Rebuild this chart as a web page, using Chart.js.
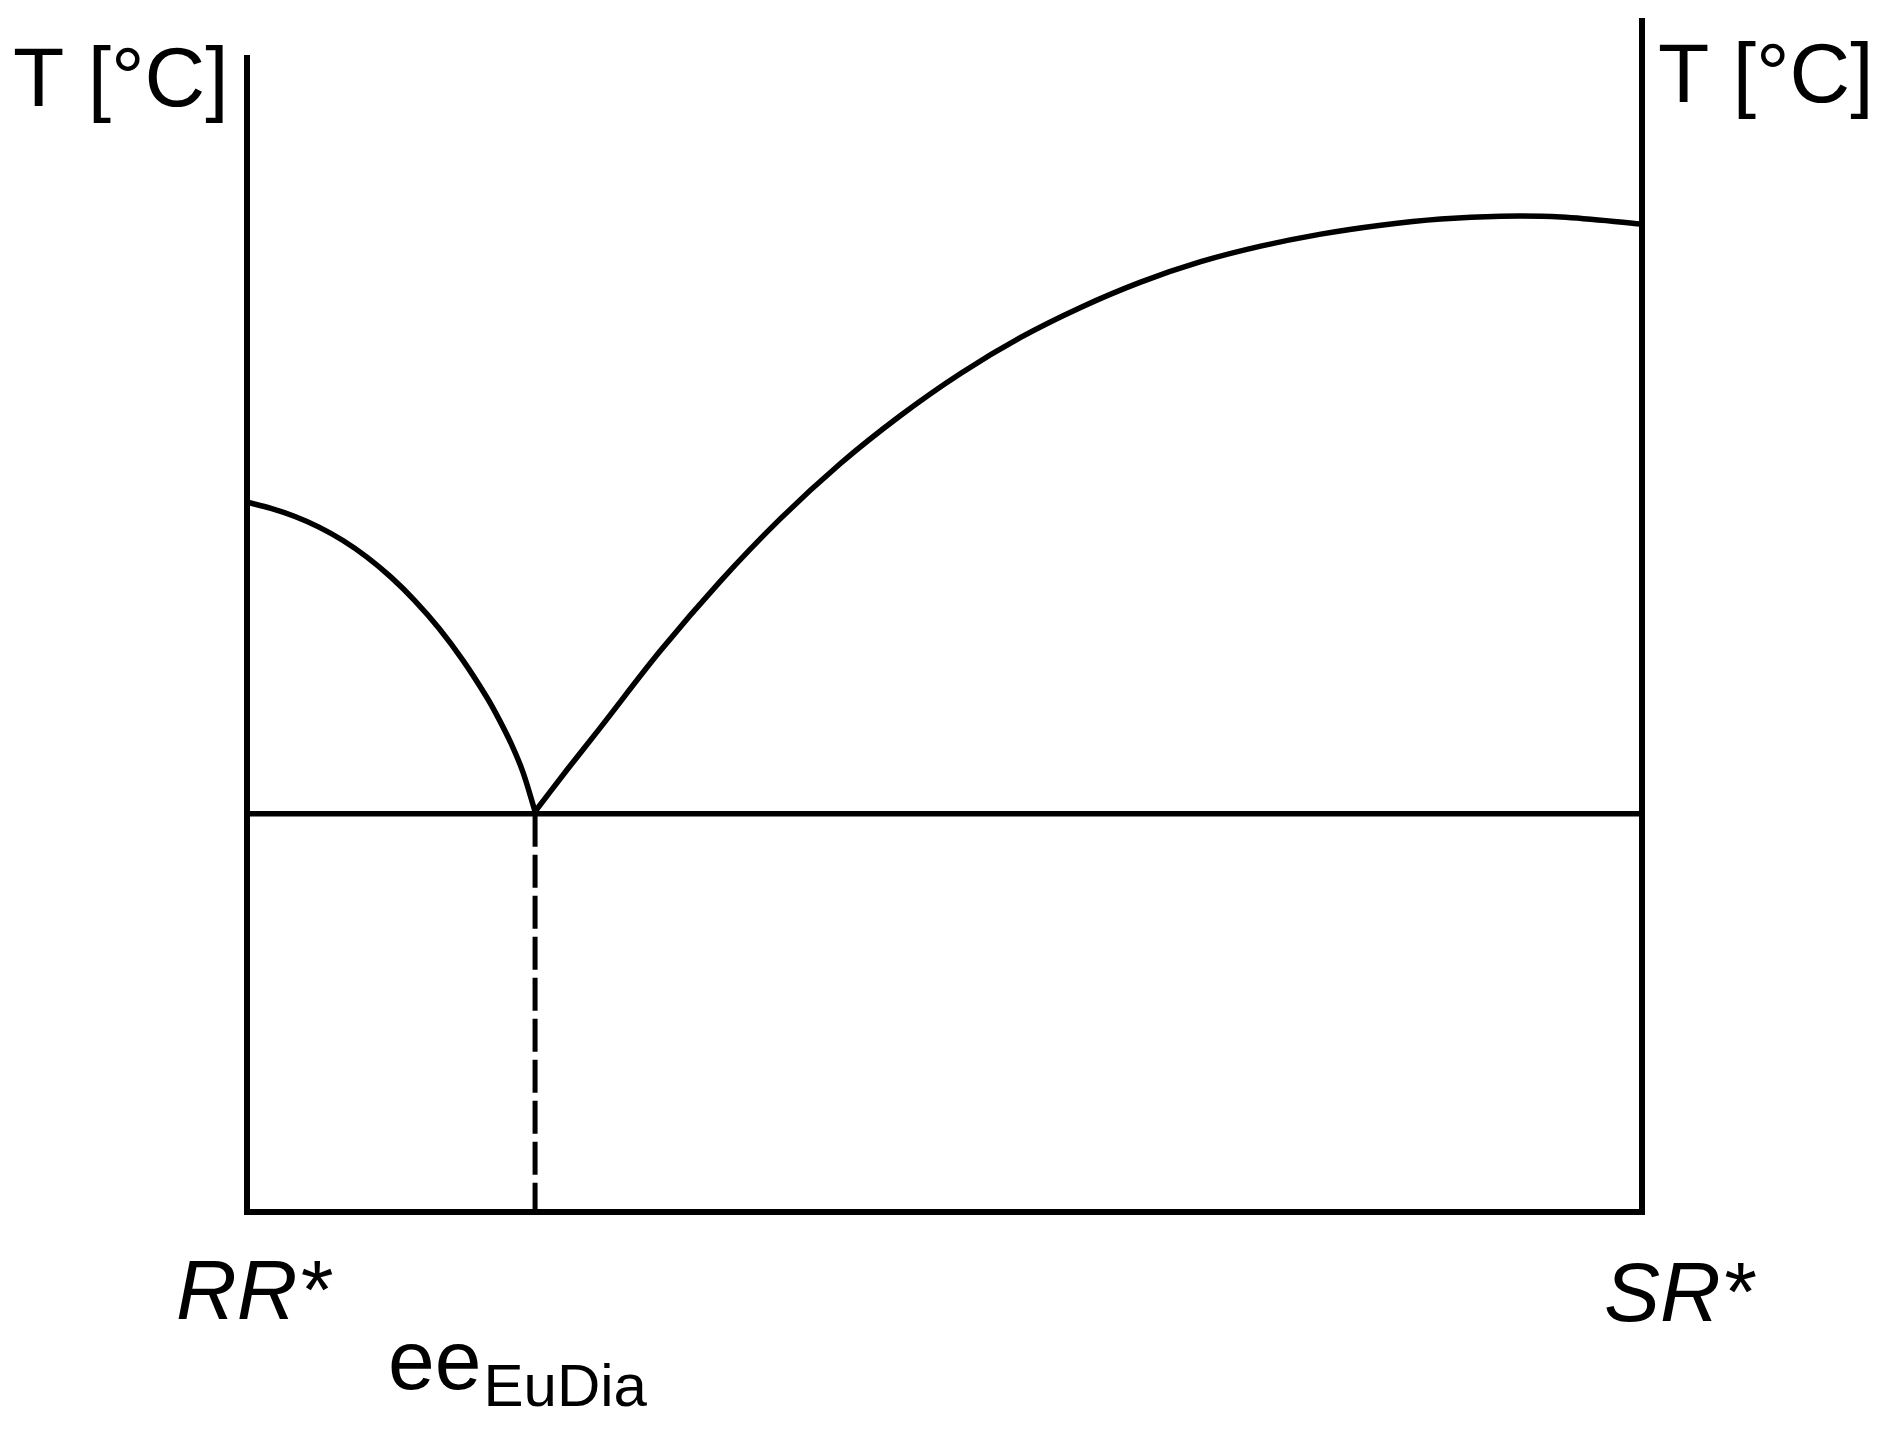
<!DOCTYPE html>
<html>
<head>
<meta charset="utf-8">
<script src="https://cdn.jsdelivr.net/npm/chart.js@4.4.1/dist/chart.umd.min.js"></script>
<style>
  html, body { margin: 0; padding: 0; background: #ffffff; }
  #wrap { position: relative; width: 1882px; height: 1430px; }
</style>
</head>
<body>
<div id="wrap"><canvas id="c" width="1882" height="1430"></canvas></div>
<script>
// ---- data (composition: 0 = RR*, 1 = SR*; temperature in arbitrary units) ----
const compositionLabels = ['RR*', 'SR*'];
const axisTitle = 'T [°C]';
const eutecticLabel = 'ee';
const eutecticSub = 'EuDia';

const leftLiquidusX = [0.0, 0.0172, 0.0344, 0.0516, 0.0688, 0.0860, 0.1032, 0.1204, 0.1376, 0.1548, 0.1720, 0.1806, 0.1892, 0.1978, 0.2065];
const leftLiquidusT = [59.44, 58.93, 58.25, 57.36, 56.24, 54.85, 53.17, 51.19, 48.89, 46.20, 43.09, 41.28, 39.26, 36.84, 33.54];

const rightLiquidusX = [0.2065, 0.2300, 0.2533, 0.2963, 0.3394, 0.3824, 0.4254, 0.4685, 0.5115, 0.5546, 0.5976, 0.6406, 0.6837, 0.7267, 0.7697, 0.8128, 0.8558, 0.8989, 0.9419, 1.0];
const rightLiquidusT = [33.54, 37.12, 40.57, 47.00, 52.84, 58.07, 62.69, 66.71, 70.23, 73.25, 75.76, 77.88, 79.59, 80.89, 81.90, 82.65, 83.17, 83.40, 83.33, 82.74];

const eutecticX = 0.2065;
const eutecticT = 33.35;
const leftAxisTop = 96.9;
const rightAxisTop = 100;

function pts(xs, ys) { return xs.map((x, i) => ({ x: x, y: ys[i] })); }

const black = '#000000';
const datasets = [
  { data: [{x:0,y:leftAxisTop},{x:0,y:0},{x:1,y:0},{x:1,y:rightAxisTop}], borderWidth: 6, borderJoinStyle: 'miter', tension: 0 },
  { data: [{x:0,y:eutecticT},{x:1,y:eutecticT}], borderWidth: 5.5, tension: 0 },
  { data: [{x:eutecticX,y:eutecticT},{x:eutecticX,y:0}], borderWidth: 5, borderDash: [33, 8], tension: 0 },
  { data: pts(leftLiquidusX, leftLiquidusT), borderWidth: 5.5, tension: 0.35 },
  { data: pts(rightLiquidusX, rightLiquidusT), borderWidth: 5.5, tension: 0.35 }
].map(d => Object.assign({
  borderColor: black, backgroundColor: black, pointRadius: 0, fill: false,
  showLine: true, clip: false, borderCapStyle: 'butt', borderJoinStyle: 'round'
}, d));

const textPlugin = {
  id: 'texts',
  afterDraw(chart) {
    const ctx = chart.ctx;
    const xs = chart.scales.x;
    ctx.save();
    ctx.fillStyle = black;
    ctx.textBaseline = 'alphabetic';
    ctx.textAlign = 'left';
    ctx.font = '84px "Liberation Sans", Arial, sans-serif';
    ctx.fillText(axisTitle, 13, 106);
    ctx.fillText(axisTitle, 1658, 102);
    ctx.font = 'italic 84px "Liberation Sans", Arial, sans-serif';
    ctx.fillText(compositionLabels[0], xs.getPixelForValue(0) - 71, 1319);
    ctx.fillText(compositionLabels[1], xs.getPixelForValue(1) - 38, 1321);
    ctx.font = '84px "Liberation Sans", Arial, sans-serif';
    const ex = xs.getPixelForValue(eutecticX) - 147;
    ctx.fillText(eutecticLabel, ex, 1389);
    const w = ctx.measureText(eutecticLabel).width;
    ctx.font = '60px "Liberation Sans", Arial, sans-serif';
    ctx.fillText(eutecticSub, ex + w + 2, 1406);
    ctx.restore();
  }
};

new Chart(document.getElementById('c'), {
  type: 'scatter',
  data: { datasets: datasets },
  options: {
    responsive: false,
    animation: false,
    devicePixelRatio: 1,
    layout: { padding: { left: 247, right: 240, top: 18, bottom: 218 } },
    plugins: { legend: { display: false }, tooltip: { enabled: false } },
    scales: {
      x: { type: 'linear', min: 0, max: 1, display: false },
      y: { type: 'linear', min: 0, max: 100, display: false }
    }
  },
  plugins: [textPlugin]
});
</script>
</body>
</html>
